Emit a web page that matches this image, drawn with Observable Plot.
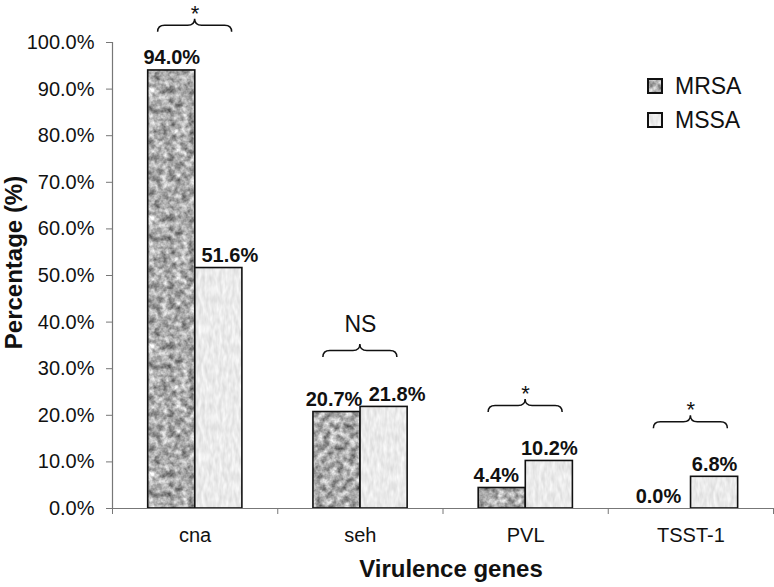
<!DOCTYPE html>
<html><head><meta charset="utf-8">
<script src="https://cdn.jsdelivr.net/npm/d3@7"></script>
<script src="https://cdn.jsdelivr.net/npm/@observablehq/plot@0.6"></script>
<style>
html,body{margin:0;padding:0;background:#fff}
#wrap{position:relative;width:774px;height:587px;font-family:"Liberation Sans",Arial,sans-serif}
#legend{position:absolute;left:648px;top:69px}
#legend .lg-swatches{margin:0 !important;min-height:0 !important;columns:auto !important;display:block}
#legend .lg-swatch{font:23px "Liberation Sans",Arial,sans-serif;color:#111;height:34px;display:flex;align-items:center;padding:0 !important}
#legend .lg-swatch svg{margin-right:13px !important;overflow:visible}
#legend .lg-swatch svg rect{stroke:#111;stroke-width:2px}
#legend .lg-swatch > span, #legend .lg-swatch-label{overflow:visible !important;max-width:none !important}
</style></head>
<body><div id="wrap"></div>
<script>
// ---- data ----
const genes = ["cna", "seh", "PVL", "TSST-1"];
const series = ["MRSA", "MSSA"];
const mrsaPct = [94.0, 20.7, 4.4, 0.0];
const mssaPct = [51.6, 21.8, 10.2, 6.8];
const sigLabels = ["*", "NS", "*", "*"];
const braceLevel = [102.2, 32.4, 20.6, 17.1]; // height (%) of the brace ends
const yTicks = [0, 10, 20, 30, 40, 50, 60, 70, 80, 90, 100];

const rows = genes.flatMap((g, gi) => [
  {gene: g, gi, series: series[0], si: 0, value: mrsaPct[gi]},
  {gene: g, gi, series: series[1], si: 1, value: mssaPct[gi]}
]);
const braces = genes.map((g, gi) => ({gene: g, gi, level: braceLevel[gi], label: sigLabels[gi]}));

// ---- layout ----
const groupPad = 0.216, barW = 0.285;
const bx1 = d => d.gi + groupPad + d.si * barW;
const bx2 = d => bx1(d) + barW;
const bxc = d => bx1(d) + barW / 2;

const labelDx = {"cna|MSSA": 11, "seh|MRSA": -3, "seh|MSSA": 13, "PVL|MRSA": -6, "TSST-1|MRSA": -9};
const dxOf = d => labelDx[d.gene + "|" + d.series] || 0;
const dxGroups = [...new Set(rows.map(dxOf))];
const labelMarks = dxGroups.map(dx => Plot.text(rows.filter(d => dxOf(d) === dx), {
  x: bxc, y: "value", text: d => d.value.toFixed(1) + "%",
  dx, dy: -6, lineAnchor: "bottom", fontSize: 20, fontWeight: "bold", fill: "#111"
}));

function braceMark(index, scales) {
  const g = d3.create("svg:g").attr("fill", "none").attr("stroke", "#111").attr("stroke-width", 1.5);
  for (const b of braces) {
    const cx = scales.x(b.gi + 0.5), ye = scales.y(b.level);
    const w = 37, h = 13, r = 7, m = ye - h / 2;
    const p = d3.path();
    p.moveTo(cx - w, ye);
    p.quadraticCurveTo(cx - w, m, cx - w + r, m);
    p.lineTo(cx - r, m);
    p.quadraticCurveTo(cx, m, cx, ye - h);
    p.quadraticCurveTo(cx, m, cx + r, m);
    p.lineTo(cx + w - r, m);
    p.quadraticCurveTo(cx + w, m, cx + w, ye);
    g.append("path").attr("d", p.toString());
  }
  return g.node();
}

const chart = Plot.plot({
  width: 774, height: 587,
  marginLeft: 112, marginRight: 1, marginTop: 42, marginBottom: 79,
  style: {fontFamily: "'Liberation Sans', Arial, sans-serif", background: "#fff", overflow: "visible", color: "#111"},
  x: {type: "linear", domain: [0, genes.length], label: null},
  y: {domain: [0, 100], label: null},
  color: {domain: series, range: ["url(#pat-mrsa)", "url(#pat-mssa)"]},
  marks: [
    Plot.rectY(rows, {x1: bx1, x2: bx2, y1: 0, y2: "value", fill: "series", stroke: "#111", strokeWidth: 1.6}),
    Plot.ruleY([0], {stroke: "#777", strokeWidth: 1.2}),
    Plot.ruleX([0], {stroke: "#777", strokeWidth: 1.2}),
    Plot.axisY({ticks: yTicks, tickFormat: d => d.toFixed(1) + "%", tickSize: 6, tickPadding: 12,
      fontSize: 20, stroke: "#777", fill: "#111", label: null}),
    Plot.axisX({ticks: d3.range(0, genes.length + 1), tickFormat: () => "", tickSize: 6, stroke: "#777", label: null}),
    Plot.axisX({ticks: genes.map((g, i) => i + 0.5), tickFormat: d => genes[Math.floor(d)], tickSize: 0,
      tickPadding: 19, fontSize: 20, fill: "#111", label: null}),
    ...labelMarks,
    braceMark,
    Plot.text(braces.filter(b => b.label === "*"), {x: b => b.gi + 0.5, y: "level", text: "label",
      lineAnchor: "bottom", dy: -11.5, fontSize: 22, fill: "#111"}),
    Plot.text(braces.filter(b => b.label !== "*"), {x: b => b.gi + 0.5, y: "level", text: "label",
      lineAnchor: "bottom", dy: -26, fontSize: 23, fill: "#111"}),
    Plot.text(["Percentage (%)"], {frameAnchor: "left", textAnchor: "middle", rotate: -90, dx: -98, dy: -13,
      fontSize: 24, fontWeight: "bold", fill: "#111"}),
    Plot.text(["Virulence genes"], {frameAnchor: "bottom", textAnchor: "middle", lineAnchor: "bottom", dx: 8, dy: 68,
      fontSize: 24, fontWeight: "bold", fill: "#111"})
  ]
});

// textures for the bars (defs referenced by the color scale range)
const svgSel = d3.select(chart.tagName.toLowerCase() === "svg" ? chart : chart.querySelector("svg"));
const defs = svgSel.insert("defs", ":first-child");
function addTexture(id, freq, octaves, a, c, seed) {
  const f = defs.append("filter").attr("id", "f-" + id)
    .attr("x", 0).attr("y", 0).attr("width", 1).attr("height", 1)
    .attr("color-interpolation-filters", "sRGB");
  f.append("feTurbulence").attr("type", "fractalNoise").attr("baseFrequency", freq)
    .attr("numOctaves", octaves).attr("seed", seed).attr("stitchTiles", "stitch");
  f.append("feColorMatrix").attr("type", "matrix")
    .attr("values", `${a} 0 0 0 ${c}  ${a} 0 0 0 ${c}  ${a} 0 0 0 ${c}  0 0 0 0 1`);
  const p = defs.append("pattern").attr("id", "pat-" + id).attr("patternUnits", "userSpaceOnUse")
    .attr("width", 128).attr("height", 128);
  p.append("rect").attr("width", 128).attr("height", 128).attr("fill", "#999").attr("filter", `url(#f-${id})`);
}
addTexture("mrsa", 0.15, 3, 0.95, 0.19, 7);
addTexture("mssa", "0.3 0.1", 2, 0.18, 0.83, 3);

const wrap = document.getElementById("wrap");
wrap.appendChild(chart);
const leg = chart.legend("color", {swatchSize: 14, className: "lg", columns: 1});
const holder = document.createElement("div");
holder.id = "legend";
holder.appendChild(leg);
wrap.appendChild(holder);
</script>
</body></html>
